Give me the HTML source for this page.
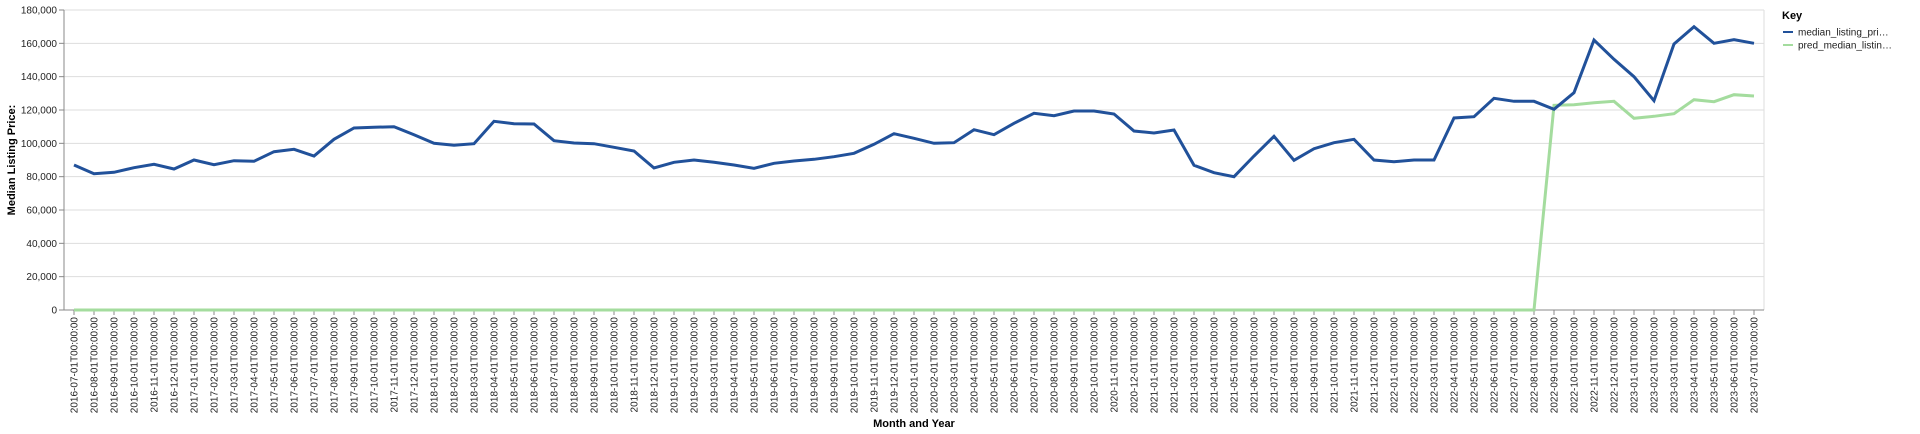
<!DOCTYPE html>
<html><head><meta charset="utf-8"><style>
body{margin:0;background:#fff;}
svg{display:block;font-family:"Liberation Sans",Arial,sans-serif;}
</style></head><body>
<svg id="chart" width="1920" height="434" xmlns="http://www.w3.org/2000/svg">
<g id="grid"></g>
<g id="yaxis"></g>
<g id="xaxis"></g>
<g id="series"></g>
<text transform="translate(15,160) rotate(-90)" text-anchor="middle" font-size="11" font-weight="bold">Median Listing Price:</text>
<text x="914" y="427" text-anchor="middle" font-size="11" font-weight="bold">Month and Year</text>
<g>
<text x="1782" y="19" font-size="11" font-weight="bold">Key</text>
<g>
<line x1="1783" y1="32" x2="1793" y2="32" stroke="#21519a" stroke-width="2"/>
<text x="1798" y="35.5" font-size="10" fill="#222">median_listing_pri…</text></g>
<g>
<line x1="1783" y1="45" x2="1793" y2="45" stroke="#a4dc9e" stroke-width="2"/>
<text x="1798" y="48.5" font-size="10" fill="#222">pred_median_listin…</text></g>
</g>
</svg>
<script>
const months = [];
for (let y = 2016, m = 7; !(y === 2023 && m === 8); m++) { if (m > 12) { m = 1; y++; } if (y === 2023 && m === 8) break; months.push(y + '-' + String(m).padStart(2, '0') + '-01T00:00:00'); }
const medianValues = [87000,81800,82600,85400,87400,84600,90000,87200,89600,89200,95000,96400,92400,102400,109200,109600,110000,105200,100000,98800,99800,113200,111800,111600,101600,100200,99800,97600,95400,85200,88600,90000,88600,87000,85000,88000,89400,90400,92000,94000,99400,105800,103000,100000,100400,108200,105200,112000,118000,116600,119400,119400,117600,107400,106200,108000,86800,82400,80000,92400,104200,89800,96800,100400,102400,90000,89000,90000,90000,115200,116000,127000,125200,125200,120400,130400,162000,150400,140000,125600,159600,170000,160000,162200,160000];
const predValues = [0,0,0,0,0,0,0,0,0,0,0,0,0,0,0,0,0,0,0,0,0,0,0,0,0,0,0,0,0,0,0,0,0,0,0,0,0,0,0,0,0,0,0,0,0,0,0,0,0,0,0,0,0,0,0,0,0,0,0,0,0,0,0,0,0,0,0,0,0,0,0,0,0,0,122800,123200,124400,125200,115000,116200,117800,126200,125000,129200,128400];
const yTicks = [0,20000,40000,60000,80000,100000,120000,140000,160000,180000];

const NS = 'http://www.w3.org/2000/svg';
const L = 64, R = 1764, T = 10, B = 310, X0 = 74, X1 = 1754, YMAX = 180000;
const xs = i => X0 + (X1 - X0) * i / (months.length - 1);
const ys = v => B - (B - T) * v / YMAX;
function mk(tag, attrs, parent) { const e = document.createElementNS(NS, tag); for (const k in attrs) e.setAttribute(k, attrs[k]); parent.appendChild(e); return e; }
const grid = document.getElementById('grid'), ya = document.getElementById('yaxis'), xa = document.getElementById('xaxis'), se = document.getElementById('series');

yTicks.forEach(v => {
  const y = ys(v);
  if (v > 0) mk('line', {x1: L, x2: R, y1: y, y2: y, stroke: '#ddd', 'stroke-width': 1}, grid);
  mk('line', {x1: L - 5, x2: L, y1: y, y2: y, stroke: '#888'}, ya);
  const t = mk('text', {x: L - 7, y: y + 3.5, 'text-anchor': 'end', 'font-size': 10, fill: '#222'}, ya);
  
  
  t.textContent = v.toLocaleString('en-US');
});
mk('line', {x1: R, x2: R, y1: T, y2: B, stroke: '#ddd'}, grid);
mk('line', {x1: L, x2: L, y1: T, y2: B, stroke: '#888'}, ya);
mk('line', {x1: L, x2: R, y1: B, y2: B, stroke: '#888'}, xa);

months.forEach((m, i) => {
  const x = xs(i);
  mk('line', {x1: x, x2: x, y1: B, y2: B + 5, stroke: '#888'}, xa);
  const t = mk('text', {transform: `translate(${x + 3.5},${B + 7}) rotate(-90)`, 'text-anchor': 'end', 'font-size': 10, fill: '#222'}, xa);
  
  
  t.textContent = m;
});

function line(vals, color, name) {
  const p = mk('path', {d: vals.map((v, i) => (i ? 'L' : 'M') + xs(i).toFixed(1) + ',' + ys(v).toFixed(1)).join(''), fill: 'none', stroke: color, 'stroke-width': 3, 'stroke-linejoin': 'miter'}, se);
  
  
}
line(predValues, '#a4dc9e', 'pred-median-line');
line(medianValues, '#21519a', 'median-listing-line');
</script>
</body></html>
